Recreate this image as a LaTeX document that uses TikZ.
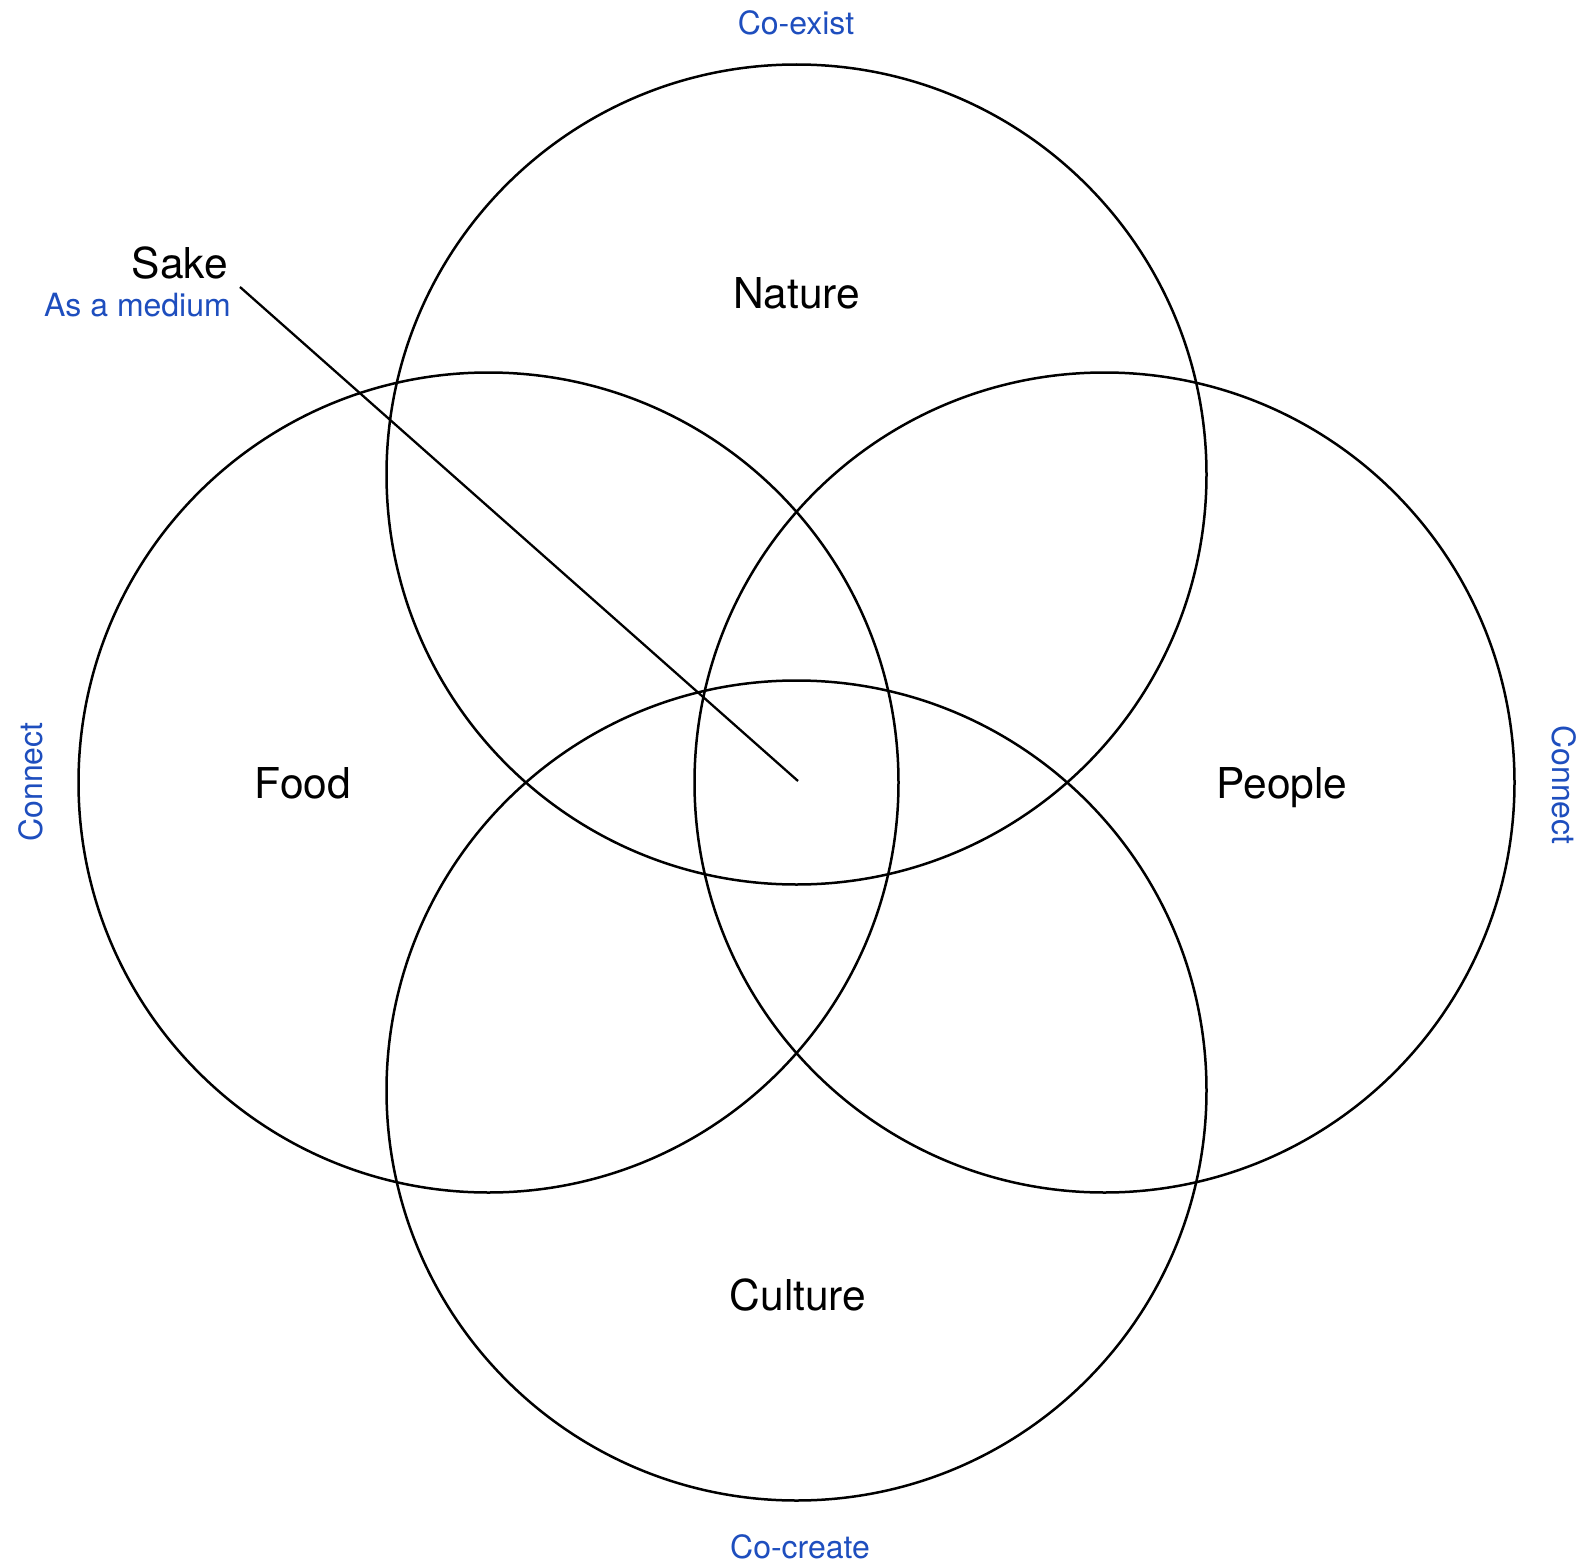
\documentclass[tikz,border=0pt]{standalone}
\usepackage{fontspec}
\setmainfont{TeX Gyre Heros}
\definecolor{lblblue}{RGB}{30,78,190}
\begin{document}
\begin{tikzpicture}[x=1pt,y=-1pt,
  ring/.style={circle,draw=black,line width=2.5pt,minimum size=820pt,inner sep=0pt},
  mainlbl/.style={anchor=base,inner sep=0pt,font=\fontsize{42.5}{50}\selectfont},
  bluelbl/.style={anchor=base,inner sep=0pt,text=lblblue,font=\fontsize{32}{38}\selectfont}]
\useasboundingbox (0,0) rectangle (1583,1568);
\node[ring] (top) at (796.5,474.5) {};
\node[ring] (left) at (488.5,782.5) {};
\node[ring] (right) at (1104.5,782.5) {};
\node[ring] (bottom) at (796.5,1090.5) {};
\node[mainlbl] (nature) at (796.5,308) {Nature};
\node[mainlbl] (food) at (303,798) {Food};
\node[mainlbl] (people) at (1282,798) {People};
\node[mainlbl] (culture) at (798,1310) {Culture};
\node[mainlbl,anchor=base east] (sake) at (228,278) {Sake};
\node[bluelbl,anchor=base east] (medium) at (231,316) {As a medium};
\node[bluelbl] (coexist) at (796,35) {Co-exist};
\node[bluelbl] (cocreate) at (800,1558) {Co-create};
\node[bluelbl,rotate=90] (connl) at (42,782) {Connect};
\node[bluelbl,rotate=-90] (connr) at (1552,785) {Connect};
\coordinate (sakestart) at (240,287);
\coordinate (sakeend) at (798,781);
\draw[line width=2.3pt] (sakestart) -- (sakeend);
\end{tikzpicture}
\end{document}
